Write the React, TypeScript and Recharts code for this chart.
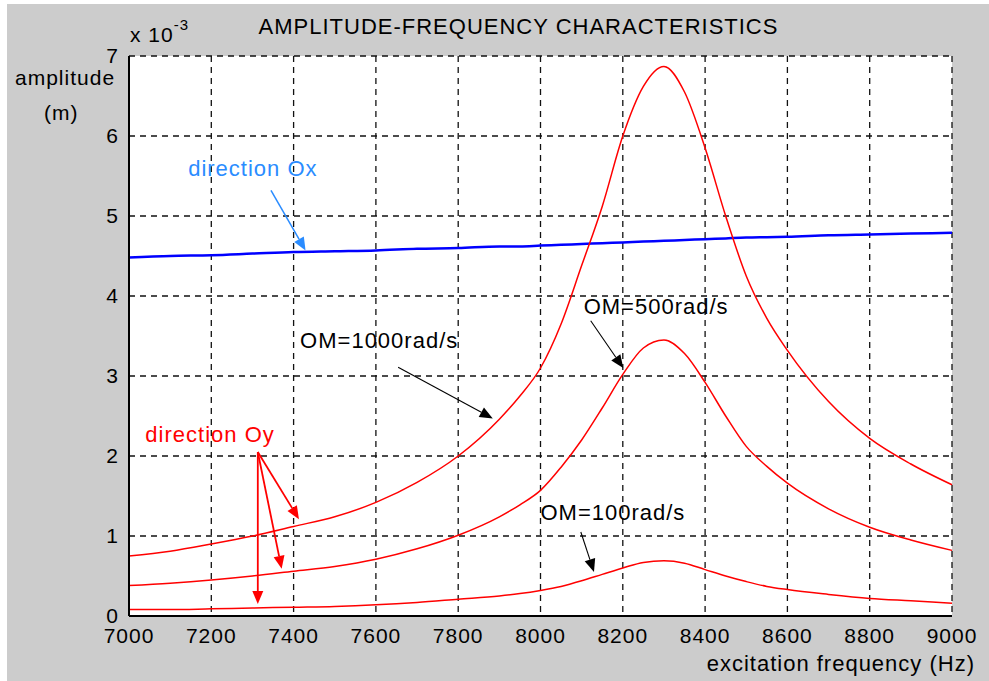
import {
  CartesianGrid,
  Line,
  LineChart,
  ReferenceDot,
  ReferenceLine,
  XAxis,
  YAxis,
} from "recharts";

// excitation frequency (Hz)
const freq = [
  7000, 7100, 7200, 7300, 7400, 7500, 7600, 7700, 7800, 7900, 7950, 8000, 8050,
  8100, 8150, 8200, 8250, 8300, 8350, 8400, 8450, 8500, 8550, 8600, 8700, 8800,
  8900, 9000,
];

// amplitude x 10^-3 m
const dirOx = [
  4.48, 4.5, 4.51, 4.53, 4.55, 4.56, 4.57, 4.59, 4.6, 4.62, 4.62, 4.63, 4.64,
  4.65, 4.66, 4.67, 4.68, 4.69, 4.7, 4.71, 4.72, 4.73, 4.735, 4.74, 4.76, 4.77,
  4.78, 4.79,
];
const om1000 = [
  0.75, 0.81, 0.9, 1.0, 1.12, 1.24, 1.42, 1.67, 2.0, 2.46, 2.75, 3.1, 3.65,
  4.38, 5.12, 6.0, 6.62, 6.87, 6.55, 5.85, 5.0, 4.25, 3.72, 3.32, 2.68, 2.22,
  1.9, 1.64,
];
const om500 = [
  0.38, 0.41, 0.45, 0.5, 0.56, 0.62, 0.71, 0.84, 1.01, 1.24, 1.39, 1.57, 1.86,
  2.2, 2.6, 3.02, 3.35, 3.45, 3.28, 2.92, 2.5, 2.12, 1.87, 1.66, 1.34, 1.11,
  0.95, 0.82,
];
const om100 = [
  0.08, 0.08, 0.09, 0.1, 0.11, 0.12, 0.14, 0.17, 0.21, 0.25, 0.28, 0.32, 0.37,
  0.44, 0.52, 0.6, 0.67, 0.69, 0.66, 0.58, 0.5, 0.43, 0.37, 0.33, 0.27, 0.22,
  0.19, 0.16,
];

const xTicks = [7000, 7200, 7400, 7600, 7800, 8000, 8200, 8400, 8600, 8800, 9000];
const yTicks = [0, 1, 2, 3, 4, 5, 6, 7];

const RED = "#ff0000";
const BLUE = "#0000ff";
const LIGHT_BLUE = "#2a8cff";
const FONT = '"Liberation Sans", Arial, sans-serif';

// annotation texts, placed in data coordinates
const notes = [
  { text: "direction Ox", f: 7301, a: 5.59, color: LIGHT_BLUE },
  { text: "direction Oy", f: 7197, a: 2.27, color: RED },
  { text: "OM=1000rad/s", f: 7608, a: 3.45, color: "#000" },
  { text: "OM=500rad/s", f: 8281, a: 3.87, color: "#000" },
  { text: "OM=100rad/s", f: 8176, a: 1.29, color: "#000" },
];

// annotation arrows: [freq, amp] start -> end
const arrows = [
  { from: [7345, 5.32], to: [7429, 4.57], color: LIGHT_BLUE, w: 1.5 },
  { from: [7313, 2.05], to: [7413, 1.21], color: RED, w: 1.8 },
  { from: [7313, 2.05], to: [7371, 0.59], color: RED, w: 1.8 },
  { from: [7313, 2.05], to: [7313, 0.15], color: RED, w: 1.8 },
  { from: [7654, 3.11], to: [7884, 2.47], color: "#000", w: 1.1 },
  { from: [8122, 3.69], to: [8201, 3.1], color: "#000", w: 1.1 },
  { from: [8098, 1.05], to: [8130, 0.55], color: "#000", w: 1.1 },
];

const rows = freq.map((f, i) => ({
  f,
  ox: dirOx[i],
  om1000: om1000[i],
  om500: om500[i],
  om100: om100[i],
}));

function arrowShape(color: string, w: number) {
  return (p: any) => {
    const { x1, y1, x2, y2 } = p;
    const dx = x2 - x1;
    const dy = y2 - y1;
    const len = Math.hypot(dx, dy) || 1;
    const ux = dx / len;
    const uy = dy / len;
    const hl = 13;
    const hw = 5.5;
    const bx = x2 - ux * hl;
    const by = y2 - uy * hl;
    const pts = `${x2},${y2} ${bx - uy * hw},${by + ux * hw} ${bx + uy * hw},${by - ux * hw}`;
    return (
      <g>
        <line x1={x1} y1={y1} x2={bx} y2={by} stroke={color} strokeWidth={w} />
        <polygon points={pts} fill={color} />
      </g>
    );
  };
}

function noteShape(text: string, color: string) {
  return (p: any) => (
    <text
      x={p.cx}
      y={p.cy}
      fill={color}
      fontSize={22}
      textAnchor="middle"
      dominantBaseline="central"
    >
      {text}
    </text>
  );
}

export default function App() {
  return (
    <div
      style={{
        position: "absolute",
        left: 7,
        top: 4,
        width: 982,
        height: 677,
        boxSizing: "border-box",
        // gray figure frame round a white plot face
        background: "#ffffff",
        borderStyle: "solid",
        borderColor: "#cccccc",
        borderWidth: "52px 37px 65px 122px",
        fontFamily: FONT,
        letterSpacing: "1px",
        color: "#000",
      }}
    >
      <div style={{ position: "absolute", left: -122, top: -52, width: 982, height: 677 }}>
        <div
          style={{
            position: "absolute",
            left: 0,
            width: 1023,
            top: 10,
            textAlign: "center",
            fontSize: 22,
            whiteSpace: "nowrap",
          }}
        >
          AMPLITUDE-FREQUENCY CHARACTERISTICS
        </div>
        <div style={{ position: "absolute", left: 123, top: 19, fontSize: 21, whiteSpace: "nowrap" }}>
          x 10<span style={{ fontSize: 15, position: "relative", top: -12 }}>-3</span>
        </div>
        <div style={{ position: "absolute", left: 8, top: 62, fontSize: 21 }}>amplitude</div>
        <div style={{ position: "absolute", left: 37, top: 97, fontSize: 21 }}>(m)</div>
        <div
          style={{
            position: "absolute",
            right: 14,
            top: 647,
            fontSize: 22,
            whiteSpace: "nowrap",
          }}
        >
          excitation frequency (Hz)
        </div>

        <LineChart
          width={982}
          height={677}
          data={rows}
          margin={{ top: 52, right: 37, left: 0, bottom: 0 }}
          style={{ position: "absolute", left: 0, top: 0 }}
        >
          <CartesianGrid stroke="#111" strokeDasharray="6 5" strokeWidth={1.3} />
          <XAxis
            dataKey="f"
            type="number"
            domain={[7000, 9000]}
            ticks={xTicks}
            interval={0}
            height={65}
            axisLine={{ stroke: "#000", strokeWidth: 2 }}
            tickLine={false}
            tickMargin={6}
            tick={{ fill: "#000", fontSize: 21 }}
          />
          <YAxis
            type="number"
            domain={[0, 7]}
            ticks={yTicks}
            interval={0}
            width={122}
            axisLine={{ stroke: "#000", strokeWidth: 2 }}
            tickLine={false}
            tickMargin={4}
            tick={{ fill: "#000", fontSize: 21 }}
          />
          <Line dataKey="ox" type="monotone" stroke={BLUE} strokeWidth={2.5} dot={false} isAnimationActive={false} />
          <Line dataKey="om1000" type="monotone" stroke={RED} strokeWidth={1.5} dot={false} isAnimationActive={false} />
          <Line dataKey="om500" type="monotone" stroke={RED} strokeWidth={1.5} dot={false} isAnimationActive={false} />
          <Line dataKey="om100" type="monotone" stroke={RED} strokeWidth={1.5} dot={false} isAnimationActive={false} />
          {arrows.map((a, i) => (
            <ReferenceLine
              key={`arrow-${i}`}
              segment={[
                { x: a.from[0], y: a.from[1] },
                { x: a.to[0], y: a.to[1] },
              ]}
              ifOverflow="visible"
              shape={arrowShape(a.color, a.w)}
            />
          ))}
          {notes.map((n) => (
            <ReferenceDot
              key={n.text}
              x={n.f}
              y={n.a}
              r={0}
              ifOverflow="visible"
              shape={noteShape(n.text, n.color)}
            />
          ))}
        </LineChart>
      </div>
    </div>
  );
}
